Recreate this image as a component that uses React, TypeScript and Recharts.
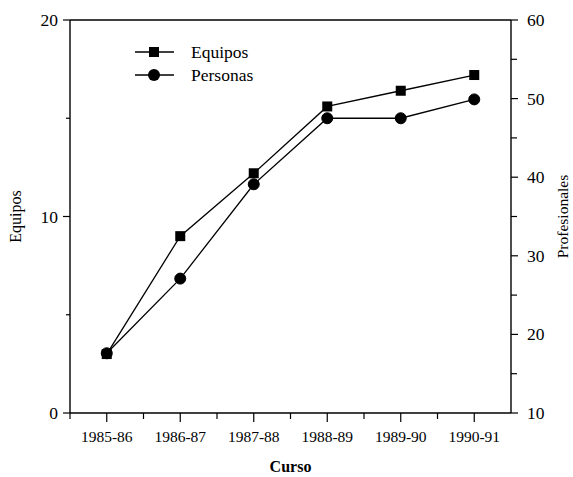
import React from 'react';
import { LineChart, Line, XAxis, YAxis, ReferenceLine, Label } from 'recharts';

// values
const cursos = ['1985-86', '1986-87', '1987-88', '1988-89', '1989-90', '1990-91'];
const equipos = [3, 9, 12.2, 15.6, 16.4, 17.2];
const personas = [17.6, 27.1, 39.1, 47.5, 47.5, 49.9];
const leftTicks = [0, 5, 10, 15, 20];
const rightTicks = [10, 15, 20, 25, 30, 35, 40, 45, 50, 55, 60];
const seriesNames = ['Equipos', 'Personas'];

const data = cursos.map((curso, i) => ({
  curso,
  equipos: equipos[i],
  personas: personas[i],
}));

const WIDTH = 573;
const HEIGHT = 477;
const LEFT_W = 70;
const RIGHT_W = 62;
const X_H = 64;
const BAND = (WIDTH - LEFT_W - RIGHT_W) / cursos.length;
const FONT = '"Liberation Serif", "Times New Roman", serif';
const INK = '#000';

const XTick = (props: any) => {
  const { x, y, payload } = props;
  return (
    <g>
      <line x1={x} x2={x} y1={y} y2={y + 9} stroke={INK} strokeWidth={1.2} />
      <line x1={x - BAND / 2} x2={x - BAND / 2} y1={y} y2={y + 6} stroke={INK} strokeWidth={1.2} />
      <text x={x} y={y + 29} textAnchor="middle" fontSize={15.5} fontFamily={FONT} fill={INK}>
        {payload.value}
      </text>
    </g>
  );
};

const LeftTick = (props: any) => {
  const { x, y, payload } = props;
  const major = payload.value % 10 === 0;
  return (
    <g>
      <line x1={x} x2={x - (major ? 7 : 4)} y1={y} y2={y} stroke={INK} strokeWidth={1.2} />
      {major && (
        <text x={x - 12} y={y + 6} textAnchor="end" fontSize={17.5} fontFamily={FONT} fill={INK}>
          {payload.value}
        </text>
      )}
    </g>
  );
};

const RightTick = (props: any) => {
  const { x, y, payload } = props;
  const major = payload.value % 10 === 0;
  return (
    <g>
      <line x1={x} x2={x + (major ? 7 : 6)} y1={y} y2={y} stroke={INK} strokeWidth={1.2} />
      {major && (
        <text x={x + 16} y={y + 6} textAnchor="start" fontSize={17.5} fontFamily={FONT} fill={INK}>
          {payload.value}
        </text>
      )}
    </g>
  );
};

const SquareDot = (props: any) => {
  const { cx, cy } = props;
  if (cx == null || cy == null) return null;
  return <rect x={cx - 5} y={cy - 5} width={10} height={10} fill={INK} />;
};

const LegendBox = () => (
  <svg
    width={170}
    height={50}
    style={{ position: 'absolute', left: 130, top: 38, overflow: 'visible' }}
  >
    <line x1={5} x2={44} y1={14} y2={14} stroke={INK} strokeWidth={1.5} />
    <rect x={19} y={9} width={10} height={10} fill={INK} />
    <text x={61} y={20} fontSize={17.5} fontFamily={FONT} fill={INK}>
      {seriesNames[0]}
    </text>
    <line x1={5} x2={44} y1={37} y2={37} stroke={INK} strokeWidth={1.5} />
    <circle cx={24} cy={37} r={6} fill={INK} />
    <text x={61} y={43} fontSize={17.5} fontFamily={FONT} fill={INK}>
      {seriesNames[1]}
    </text>
  </svg>
);

export default function App() {
  return (
    <div style={{ position: 'absolute', left: 0, top: 0, width: WIDTH, height: HEIGHT, background: '#fff' }}>
      <LineChart
        width={WIDTH}
        height={HEIGHT}
        data={data}
        margin={{ top: 20, right: 0, bottom: 0, left: 0 }}
      >
        <XAxis
          dataKey="curso"
          height={X_H}
          padding={{ left: BAND / 2, right: BAND / 2 }}
          interval={0}
          tickSize={0}
          tickMargin={0}
          tickLine={false}
          tick={<XTick />}
          axisLine={{ stroke: INK, strokeWidth: 1.4 }}
        >
          <Label
            value="Curso"
            position="insideBottom"
            offset={5}
            style={{ fontFamily: FONT, fontSize: 16, fontWeight: 'bold', fill: INK }}
          />
        </XAxis>
        <YAxis
          yAxisId="left"
          orientation="left"
          width={LEFT_W}
          domain={[0, 20]}
          ticks={leftTicks}
          interval={0}
          tickSize={0}
          tickMargin={0}
          tickLine={false}
          tick={<LeftTick />}
          axisLine={{ stroke: INK, strokeWidth: 1.4 }}
        >
          <Label
            value="Equipos"
            position="center"
            angle={-90}
            dx={-20}
            style={{ fontFamily: FONT, fontSize: 16, fill: INK, textAnchor: 'middle' }}
          />
        </YAxis>
        <YAxis
          yAxisId="right"
          orientation="right"
          width={RIGHT_W}
          domain={[10, 60]}
          ticks={rightTicks}
          interval={0}
          tickSize={0}
          tickMargin={0}
          tickLine={false}
          tick={<RightTick />}
          axisLine={{ stroke: INK, strokeWidth: 1.4 }}
        >
          <Label
            value="Profesionales"
            position="center"
            angle={-90}
            dx={20}
            style={{ fontFamily: FONT, fontSize: 15.5, fill: INK, textAnchor: 'middle' }}
          />
        </YAxis>
        <ReferenceLine yAxisId="left" y={20} stroke={INK} strokeWidth={1.4} />
        <Line
          yAxisId="left"
          type="linear"
          dataKey="equipos"
          name={seriesNames[0]}
          stroke={INK}
          strokeWidth={1.3}
          dot={<SquareDot />}
          activeDot={false}
          isAnimationActive={false}
        />
        <Line
          yAxisId="right"
          type="linear"
          dataKey="personas"
          name={seriesNames[1]}
          stroke={INK}
          strokeWidth={1.3}
          dot={{ r: 5.5, fill: INK, stroke: INK, strokeWidth: 1 }}
          activeDot={false}
          isAnimationActive={false}
        />
      </LineChart>
      <LegendBox />
    </div>
  );
}
